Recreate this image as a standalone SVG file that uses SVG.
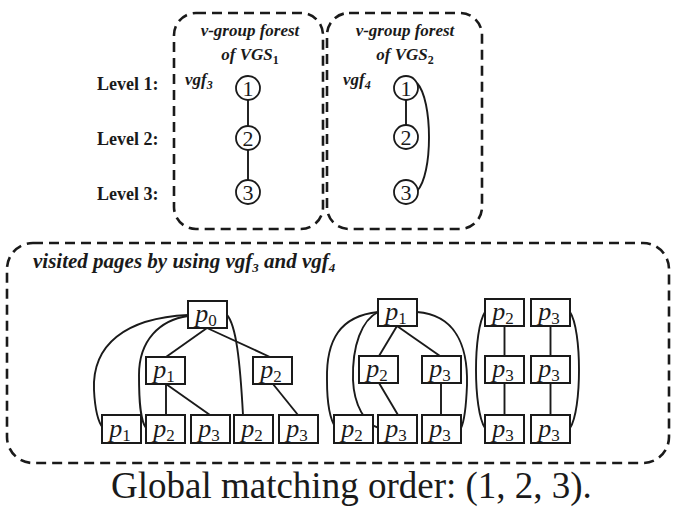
<svg xmlns="http://www.w3.org/2000/svg" width="675" height="507" viewBox="0 0 675 507">
  <style>
    .frame { fill: none; stroke: #1a1a1a; stroke-width: 2.6; stroke-dasharray: 10 6; }
    .lvl { font-family: "Liberation Serif", "Times New Roman", serif; font-weight: bold; font-size: 18px; fill: #1a1a1a; }
    .ttl { font-family: "Liberation Serif", "Times New Roman", serif; font-weight: bold; font-style: italic; font-size: 17px; fill: #1a1a1a; }
    .vt { font-family: "Liberation Serif", "Times New Roman", serif; font-weight: bold; font-style: italic; font-size: 21px; fill: #1a1a1a; }
    .circ { fill: #fff; stroke: #1a1a1a; stroke-width: 1.8; }
    .num { font-family: "Liberation Serif", "Times New Roman", serif; font-size: 22px; fill: #1a1a1a; text-anchor: middle; }
    .pg rect { fill: #fff; stroke: #1a1a1a; stroke-width: 2; }
    .pg text { font-family: "Liberation Serif", "Times New Roman", serif; font-style: italic; font-size: 26px; fill: #1a1a1a; text-anchor: middle; }
    .sub { font-style: normal; font-size: 17px; }
    .edge { fill: none; stroke: #1a1a1a; stroke-width: 1.9; }
    .foot { font-family: "Liberation Serif", "Times New Roman", serif; font-size: 37px; fill: #1a1a1a; }
  </style>

  <!-- dashed frames -->
  <g id="frames">
    <rect class="frame" x="174" y="13" width="149" height="216" rx="22"/>
    <rect class="frame" x="327" y="13" width="155" height="216" rx="22"/>
    <rect class="frame" x="7" y="243" width="662" height="220" rx="26"/>
  </g>

  <!-- level labels -->
  <g id="levels">
    <text class="lvl" x="97" y="90">Level 1:</text>
    <text class="lvl" x="97" y="145">Level 2:</text>
    <text class="lvl" x="97" y="200">Level 3:</text>
  </g>

  <!-- titles of the two v-group forests -->
  <g id="forest-titles">
    <text class="ttl" x="250" y="36" text-anchor="middle">v-group forest</text>
    <text class="ttl" x="250" y="60" text-anchor="middle">of VGS<tspan font-size="12" dy="4" font-style="normal">1</tspan></text>
    <text class="ttl" x="405" y="36" text-anchor="middle">v-group forest</text>
    <text class="ttl" x="405" y="60" text-anchor="middle">of VGS<tspan font-size="12" dy="4" font-style="normal">2</tspan></text>
    <text class="ttl" x="185" y="85">vgf<tspan font-size="12" dy="4">3</tspan></text>
    <text class="ttl" x="343" y="85">vgf<tspan font-size="12" dy="4">4</tspan></text>
  </g>

  <!-- forest connectors -->
  <g id="forest-edges">
    <line class="edge" x1="248" y1="100" x2="248" y2="126"/>
    <line class="edge" x1="248" y1="150" x2="248" y2="180"/>
    <line class="edge" x1="406" y1="100" x2="406" y2="125"/>
    <path class="edge" d="M417,83 C433,100 433,175 417,191"/>
  </g>

  <!-- vgf3 nodes -->
  <g id="vgf3-1"><circle class="circ" cx="248" cy="88" r="12"/><text class="num" x="248" y="96">1</text></g>
  <g id="vgf3-2"><circle class="circ" cx="248" cy="138" r="12"/><text class="num" x="248" y="146">2</text></g>
  <g id="vgf3-3"><circle class="circ" cx="248" cy="192" r="12"/><text class="num" x="248" y="200">3</text></g>
  <!-- vgf4 nodes -->
  <g id="vgf4-1"><circle class="circ" cx="406" cy="88" r="12"/><text class="num" x="406" y="96">1</text></g>
  <g id="vgf4-2"><circle class="circ" cx="406" cy="137" r="12"/><text class="num" x="406" y="145">2</text></g>
  <g id="vgf4-3"><circle class="circ" cx="406" cy="192" r="12"/><text class="num" x="406" y="200">3</text></g>

  <text class="vt" x="33" y="268">visited pages by using vgf<tspan font-size="13" dy="4">3</tspan><tspan dy="-4"> and vgf</tspan><tspan font-size="13" dy="4">4</tspan></text>

  <!-- page connectors -->
  <g id="page-edges">
    <!-- tree rooted at p0 -->
    <line class="edge" x1="207" y1="328" x2="166" y2="357"/>
    <line class="edge" x1="207" y1="328" x2="270" y2="357"/>
    <line class="edge" x1="166" y1="384" x2="166" y2="415"/>
    <line class="edge" x1="166" y1="384" x2="210" y2="415"/>
    <line class="edge" x1="273" y1="384" x2="298" y2="415"/>
    <path class="edge" d="M188,315 C125,318 92,345 94,390 C95,410 98,422 103,428"/>
    <path class="edge" d="M188,316 C160,320 139,340 139,375 C139,400 140,420 146,428"/>
    <path class="edge" d="M227,315 C236,325 240,360 243,415"/>
    <!-- tree rooted at p1 -->
    <line class="edge" x1="397" y1="326" x2="379" y2="356"/>
    <line class="edge" x1="397" y1="326" x2="440" y2="356"/>
    <line class="edge" x1="379" y1="383" x2="398" y2="415"/>
    <line class="edge" x1="441" y1="383" x2="441" y2="415"/>
    <path class="edge" d="M378,312 C340,316 326,340 327,380 C327,405 330,420 336,428"/>
    <path class="edge" d="M378,312 C362,320 352,345 353,380 C354,405 365,424 379,428"/>
    <path class="edge" d="M417,312 C455,315 468,345 467,385 C466,410 464,422 461,428"/>
    <!-- chains p2-p3-p3 and p3-p3-p3 -->
    <line class="edge" x1="504.5" y1="326" x2="504.5" y2="356"/>
    <line class="edge" x1="504.5" y1="383" x2="504.5" y2="415"/>
    <line class="edge" x1="550.5" y1="326" x2="550.5" y2="356"/>
    <line class="edge" x1="550.5" y1="383" x2="550.5" y2="415"/>
    <path class="edge" d="M485,312 C473,330 473,410 485,428"/>
    <path class="edge" d="M570,312 C582,330 582,410 570,428"/>
  </g>

  <!-- pages: tree rooted at p0 -->
  <g id="a-p0" class="pg"><rect x="188" y="301" width="39" height="27"/><text x="206" y="322">p<tspan class="sub" dy="4">0</tspan></text></g>
  <g id="a-p1" class="pg"><rect x="146" y="357" width="39" height="27"/><text x="164" y="378">p<tspan class="sub" dy="4">1</tspan></text></g>
  <g id="a-p2" class="pg"><rect x="253" y="357" width="39" height="27"/><text x="271" y="378">p<tspan class="sub" dy="4">2</tspan></text></g>
  <g id="a-l1" class="pg"><rect x="102" y="415" width="39" height="28"/><text x="120" y="437">p<tspan class="sub" dy="4">1</tspan></text></g>
  <g id="a-l2" class="pg"><rect x="146" y="415" width="39" height="28"/><text x="164" y="437">p<tspan class="sub" dy="4">2</tspan></text></g>
  <g id="a-l3" class="pg"><rect x="191" y="415" width="39" height="28"/><text x="209" y="437">p<tspan class="sub" dy="4">3</tspan></text></g>
  <g id="a-l4" class="pg"><rect x="234" y="415" width="39" height="28"/><text x="252" y="437">p<tspan class="sub" dy="4">2</tspan></text></g>
  <g id="a-l5" class="pg"><rect x="279" y="415" width="39" height="28"/><text x="297" y="437">p<tspan class="sub" dy="4">3</tspan></text></g>

  <!-- pages: tree rooted at p1 -->
  <g id="b-p1" class="pg"><rect x="378" y="299" width="39" height="27"/><text x="396" y="320">p<tspan class="sub" dy="4">1</tspan></text></g>
  <g id="b-p2" class="pg"><rect x="359" y="356" width="39" height="27"/><text x="377" y="377">p<tspan class="sub" dy="4">2</tspan></text></g>
  <g id="b-p3" class="pg"><rect x="422" y="356" width="39" height="27"/><text x="440" y="377">p<tspan class="sub" dy="4">3</tspan></text></g>
  <g id="b-l1" class="pg"><rect x="334" y="415" width="39" height="28"/><text x="352" y="437">p<tspan class="sub" dy="4">2</tspan></text></g>
  <g id="b-l2" class="pg"><rect x="378" y="415" width="39" height="28"/><text x="396" y="437">p<tspan class="sub" dy="4">3</tspan></text></g>
  <g id="b-l3" class="pg"><rect x="422" y="415" width="39" height="28"/><text x="440" y="437">p<tspan class="sub" dy="4">3</tspan></text></g>

  <!-- pages: chains -->
  <g id="c-p2" class="pg"><rect x="485" y="299" width="39" height="27"/><text x="503" y="320">p<tspan class="sub" dy="4">2</tspan></text></g>
  <g id="c-p3a" class="pg"><rect x="485" y="356" width="39" height="27"/><text x="503" y="377">p<tspan class="sub" dy="4">3</tspan></text></g>
  <g id="c-p3b" class="pg"><rect x="485" y="415" width="39" height="28"/><text x="503" y="437">p<tspan class="sub" dy="4">3</tspan></text></g>
  <g id="d-p3" class="pg"><rect x="531" y="299" width="39" height="27"/><text x="549" y="320">p<tspan class="sub" dy="4">3</tspan></text></g>
  <g id="d-p3a" class="pg"><rect x="531" y="356" width="39" height="27"/><text x="549" y="377">p<tspan class="sub" dy="4">3</tspan></text></g>
  <g id="d-p3b" class="pg"><rect x="531" y="415" width="39" height="28"/><text x="549" y="437">p<tspan class="sub" dy="4">3</tspan></text></g>

  <text class="foot" x="111" y="498">Global matching order: (1, 2, 3).</text>
</svg>
